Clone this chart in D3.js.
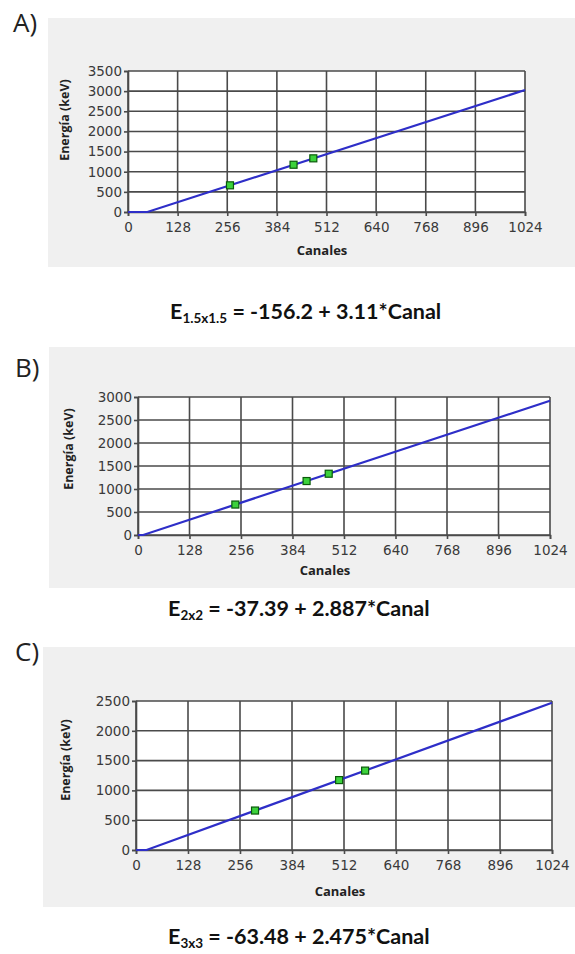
<!DOCTYPE html>
<head>
    <meta charset="utf-8">
    <script src="https://d3js.org/d3.v7.min.js"></script>
    <style>
        body { margin: 0; background: white; }
    </style>
</head>
<body>
<script>
    // values
    const xTicks = [0, 128, 256, 384, 512, 640, 768, 896, 1024];
    const yTicksA = [0, 500, 1000, 1500, 2000, 2500, 3000, 3500];
    const yTicksB = [0, 500, 1000, 1500, 2000, 2500, 3000];
    const yTicksC = [0, 500, 1000, 1500, 2000, 2500];

    // calibration peaks (Cs-137, Co-60, Co-60)
    const energies = [662, 1173, 1332];
    const channelsA = [263, 427, 478];
    const channelsB = [242, 419, 474];
    const channelsC = [293, 500, 564];

    // fitted lines [channel, energy]
    const fitA = [[0, 0], [50, 0], [1024, 3028]];
    const fitB = [[0, 0], [13, 0], [1024, 2919]];
    const fitC = [[0, 0], [26, 0], [1024, 2471]];

    const panelLabels = ["A)", "B)", "C)"];
    const eqSubs = ["1.5x1.5", "2x2", "3x3"];
    const eqTexts = ["= -156.2 + 3.11*Canal", "= -37.39 + 2.887*Canal", "= -63.48 + 2.475*Canal"];

    const yTickSets = [yTicksA, yTicksB, yTicksC];
    const channelSets = [channelsA, channelsB, channelsC];
    const fits = [fitA, fitB, fitC];

    // where each panel sits on the page
    const layout = [
        {bg: [48, 18, 575, 267], lab: [13, 32], plot: [128, 525, 71, 212], ylab: [65, 120], xlab: [322, 255], eq: [170, 319]},
        {bg: [49, 347, 575, 588], lab: [15, 377], plot: [138, 550, 397, 535], ylab: [69, 449], xlab: [325, 575], eq: [168, 616]},
        {bg: [43, 647, 575, 907], lab: [15, 661], plot: [136, 552, 701, 850], ylab: [66, 760], xlab: [340, 896], eq: [168, 944]}
    ];

    const svg = d3.select("body").append("svg")
        .attr("width", 575)
        .attr("height", 954)
        .style("background-color", "white");

    for (let i = 0; i < 3; i++) {
        drawPanel(i);
    }

    function drawPanel(i) {
        const L = layout[i];
        const yTicks = yTickSets[i];
        const [left, right, top, bottom] = L.plot;
        const g = svg.append("g");

        g.append("rect")
            .attr("x", L.bg[0]).attr("y", L.bg[1])
            .attr("width", L.bg[2] - L.bg[0]).attr("height", L.bg[3] - L.bg[1])
            .attr("fill", "#f0f0f0");

        g.append("text")
            .attr("x", L.lab[0]).attr("y", L.lab[1])
            .style("font-family", "'Open Sans', sans-serif")
            .style("font-size", "26px")
            .attr("fill", "#222")
            .text(panelLabels[i]);

        const x = d3.scaleLinear().domain([0, 1024]).range([left, right]);
        const y = d3.scaleLinear().domain([0, d3.max(yTicks)]).range([bottom, top]);

        g.append("rect")
            .attr("x", left).attr("y", top)
            .attr("width", right - left).attr("height", bottom - top)
            .attr("fill", "white");

        // grid
        g.append("g").selectAll("line").data(yTicks).enter().append("line")
            .attr("x1", left).attr("x2", right)
            .attr("y1", d => y(d)).attr("y2", d => y(d))
            .attr("stroke", "#4a4a4a").attr("stroke-width", 1.6);
        g.append("g").selectAll("line").data(xTicks).enter().append("line")
            .attr("x1", d => x(d)).attr("x2", d => x(d))
            .attr("y1", top).attr("y2", bottom)
            .attr("stroke", "#4a4a4a").attr("stroke-width", 1.6);

        const yAxis = g.append("g")
            .attr("transform", "translate(" + left + ",0)")
            .call(d3.axisLeft(y).tickValues(yTicks).tickSize(4).tickPadding(2).tickFormat(d3.format("d")));
        const xAxis = g.append("g")
            .attr("transform", "translate(0," + bottom + ")")
            .call(d3.axisBottom(x).tickValues(xTicks).tickSize(4).tickPadding(6).tickFormat(d3.format("d")));

        [yAxis, xAxis].forEach(ax => {
            ax.select(".domain").attr("stroke", "#4a4a4a").attr("stroke-width", 1.6);
            ax.selectAll(".tick line").attr("stroke", "#4a4a4a").attr("stroke-width", 1.6);
            ax.selectAll("text")
                .style("font-family", "'DejaVu Sans', sans-serif")
                .style("font-size", "13.5px")
                .attr("fill", "#3a3a3a");
        });

        // fitted line
        const line = d3.line().x(d => x(d[0])).y(d => y(d[1]));
        g.append("path")
            .datum(fits[i])
            .attr("d", line)
            .attr("fill", "none")
            .attr("stroke", "#2e2ec8")
            .attr("stroke-width", 2.2);

        // measured points
        const pts = channelSets[i].map((c, k) => [c, energies[k]]);
        g.append("g").selectAll("rect").data(pts).enter().append("rect")
            .attr("x", d => x(d[0]) - 3.5)
            .attr("y", d => y(d[1]) - 3.5)
            .attr("width", 7).attr("height", 7)
            .attr("fill", "#3cd23c")
            .attr("stroke", "#0a5a0a")
            .attr("stroke-width", 1.2);

        g.append("text")
            .attr("transform", "translate(" + L.ylab[0] + "," + L.ylab[1] + ") rotate(-90)")
            .attr("text-anchor", "middle")
            .attr("dy", "0.35em")
            .style("font-family", "'Open Sans', sans-serif")
            .style("font-size", "12.5px")
            .style("font-weight", "bold")
            .attr("fill", "#222")
            .text("Energía (keV)");

        g.append("text")
            .attr("x", L.xlab[0]).attr("y", L.xlab[1])
            .attr("text-anchor", "middle")
            .style("font-family", "'Open Sans', sans-serif")
            .style("font-size", "13px")
            .style("font-weight", "bold")
            .attr("fill", "#222")
            .text("Canales");

        const eq = svg.append("text")
            .attr("x", L.eq[0]).attr("y", L.eq[1])
            .style("font-family", "Lato, sans-serif")
            .style("font-size", "21.5px")
            .style("font-weight", "bold")
            .attr("fill", "#111");
        eq.append("tspan").text("E");
        eq.append("tspan").attr("dy", 4).style("font-size", "13.5px").text(eqSubs[i]);
        eq.append("tspan").attr("dy", -4).text(" " + eqTexts[i]);
    }
</script>
</body>
